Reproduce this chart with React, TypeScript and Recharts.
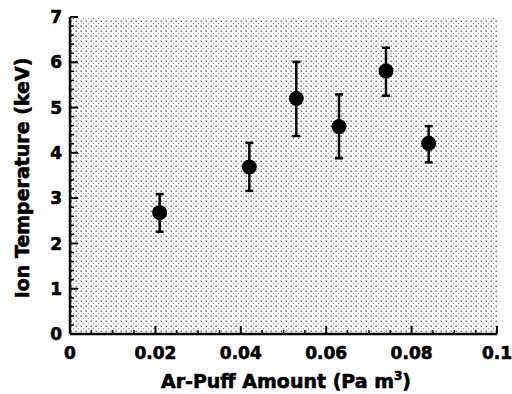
import React from "react";
import {
  ErrorBar,
  ReferenceArea,
  Scatter,
  ScatterChart,
  XAxis,
  YAxis
} from "recharts";

const puffAmount = [0.021, 0.042, 0.053, 0.063, 0.074, 0.084];
const ionTemp = [2.68, 3.69, 5.2, 4.58, 5.81, 4.21];
const tempLow = [2.26, 3.16, 4.37, 3.88, 5.26, 3.79];
const tempHigh = [3.09, 4.22, 6.01, 5.29, 6.32, 4.59];

const xTicks = Array.from({ length: 21 }, (_, i) => +(i * 0.005).toFixed(3));
const yTicks = Array.from({ length: 36 }, (_, i) => +(i * 0.2).toFixed(1));
const xLabels = ["0", "0.02", "0.04", "0.06", "0.08", "0.1"];

const data = puffAmount.map((x, i) => ({
  x,
  y: ionTemp[i],
  err: [ionTemp[i] - tempLow[i], tempHigh[i] - ionTemp[i]]
}));

const FONT = "'DejaVu Sans', sans-serif";
const textStyle = { fontWeight: "bold", fontFamily: FONT, fill: "#000", stroke: "#000", strokeWidth: 0.6 } as const;

function isMajor(v: number, step: number) {
  return Math.abs(v / step - Math.round(v / step)) < 1e-6;
}

function makeTick(side: "bottom" | "top" | "left" | "right", step: number) {
  return (props: any) => {
    const { x, y, payload } = props;
    const v = payload.value;
    const major = isMajor(v, step);
    const len = major ? 8 : 4;
    const sw = major ? 2 : 1.5;
    let line;
    if (side === "bottom") line = <line x1={x} x2={x} y1={y} y2={y - len} />;
    else if (side === "top") line = <line x1={x} x2={x} y1={y} y2={y + len} />;
    else if (side === "left") line = <line x1={x} x2={x + len} y1={y} y2={y} />;
    else line = <line x1={x} x2={x - len} y1={y} y2={y} />;
    let label = null;
    if (major && side === "bottom") {
      const idx = Math.round(v / step);
      label = (
        <text x={x} y={y + 25} textAnchor="middle" fontSize={17} {...textStyle}>
          {xLabels[idx]}
        </text>
      );
    }
    if (major && side === "left") {
      label = (
        <text x={x - 8} y={y} dy="0.36em" textAnchor="end" fontSize={17} {...textStyle}>
          {Math.round(v)}
        </text>
      );
    }
    return (
      <g>
        <g stroke="#000" strokeWidth={sw}>{line}</g>
        {label}
      </g>
    );
  };
}

const Dot = (props: any) => <circle cx={props.cx} cy={props.cy} r={7.5} fill="#000" />;

const axisLine = { stroke: "#000", strokeWidth: 2.5 };

export default function App() {
  return (
    <div style={{ position: "absolute", left: 0, top: 0, width: 512, height: 394, background: "#fff" }}>
      <ScatterChart width={512} height={394} margin={{ top: 17, right: 15, bottom: 0, left: 0 }}>
        <defs>
          <pattern id="stipple" width="5" height="5" patternUnits="userSpaceOnUse">
            <rect x="0.6" y="0.6" width="1.2" height="1.2" fill="#222" />
            <rect x="3.1" y="3.1" width="1" height="1" fill="#777" />
          </pattern>
        </defs>
        <XAxis
          xAxisId="b"
          type="number"
          dataKey="x"
          domain={[0, 0.1]}
          ticks={xTicks}
          interval={0}
          height={60}
          tickSize={0}
          tickMargin={0}
          axisLine={axisLine}
          tick={makeTick("bottom", 0.02)}
          label={{
            content: () => (
              <text x={286} y={388} textAnchor="middle" fontSize={19} {...textStyle}>
                Ar-Puff Amount (Pa m<tspan fontSize={12} dy={-8}>3</tspan><tspan dy={8}>)</tspan>
              </text>
            )
          }}
        />
        <XAxis
          xAxisId="t"
          orientation="top"
          type="number"
          domain={[0, 0.1]}
          ticks={xTicks}
          interval={0}
          height={0}
          tickSize={0}
          tickMargin={0}
          axisLine={axisLine}
          tick={makeTick("top", 0.02)}
        />
        <YAxis
          yAxisId="l"
          type="number"
          dataKey="y"
          domain={[0, 7]}
          ticks={yTicks}
          interval={0}
          width={70}
          tickSize={0}
          tickMargin={0}
          axisLine={axisLine}
          tick={makeTick("left", 1)}
          label={{
            content: () => (
              <text
                x={22}
                y={178}
                transform="rotate(-90 22 178)"
                textAnchor="middle"
                dy="0.36em"
                fontSize={19}
                {...textStyle}
              >
                Ion Temperature (keV)
              </text>
            )
          }}
        />
        <YAxis
          yAxisId="r"
          orientation="right"
          type="number"
          domain={[0, 7]}
          ticks={yTicks}
          interval={0}
          width={0}
          tickSize={0}
          tickMargin={0}
          axisLine={axisLine}
          tick={makeTick("right", 1)}
        />
        <ReferenceArea xAxisId="b" yAxisId="l" x1={0} x2={0.1} y1={0} y2={7} fill="url(#stipple)" fillOpacity={1} stroke="none" />
        <Scatter xAxisId="b" yAxisId="l" data={data} shape={Dot} isAnimationActive={false}>
          <ErrorBar dataKey="err" direction="y" width={4} stroke="#000" strokeWidth={2.5} isAnimationActive={false} />
        </Scatter>
      </ScatterChart>
    </div>
  );
}
